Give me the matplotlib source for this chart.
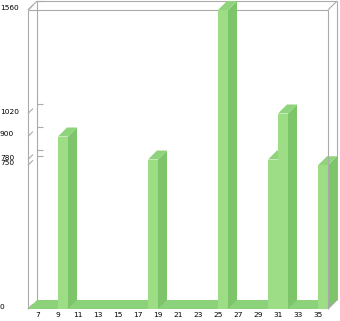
import matplotlib
matplotlib.use("Agg")
import matplotlib.pyplot as plt
from matplotlib.patches import Polygon, Rectangle
from matplotlib.transforms import blended_transform_factory, ScaledTranslation

# chart data
bar_x = [10, 19, 26, 31, 32, 36]
bar_values = [900, 780, 1560, 780, 1020, 750]
y_ticks = [0, 750, 780, 900, 1020, 1560]
x_ticks = list(range(7, 36, 2))

front_col = "#9cdd86"
side_col = "#7ec46b"
top_col = "#8fd47c"
floor_col = "#8cd27a"
line_col = "#aaaaaa"

W, H, DPI = 340, 321, 100
fig = plt.figure(figsize=(W / DPI, H / DPI), dpi=DPI)
ax = fig.add_axes([28 / W, 12 / H, 300 / W, 299 / H])
ax.set_xlim(6, 36)
ax.set_ylim(0, 1560)
for s in ax.spines.values():
    s.set_visible(False)
ax.set_yticks([])

# depth offset (9px right, 9px up) in data units
x0, x1 = ax.get_xlim()
y0, y1 = ax.get_ylim()
p = ax.transData.transform((x0, y0))
q = ax.transData.inverted().transform(p + [9, 9])
ddx, ddy = q[0] - x0, q[1] - y0

lw = 0.8
fs = 5.3


def line(xs, ys, z=0.5):
    ax.plot(xs, ys, color=line_col, lw=lw, zorder=z, clip_on=False,
            solid_capstyle="butt")


# back wall and front frame
line([x0 + ddx, x0 + ddx], [y0 + ddy, y1 + ddy])
line([x0 + ddx, x1 + ddx], [y1 + ddy, y1 + ddy])
line([x0, x0], [y0, y1])
line([x0, x1], [y1, y1])
line([x0, x0 + ddx], [y1, y1 + ddy])
line([x1, x1 + ddx], [y1, y1 + ddy], z=6)
line([x1, x1], [y0, y1], z=6)
line([x1 + ddx, x1 + ddx], [y0 + ddy, y1 + ddy], z=6)
line([x1, x1 + ddx], [y0, y0 + ddy], z=6)

# y ticks: diagonal on front axis, short horizontal on back wall
lab_tr = blended_transform_factory(fig.transFigure, ax.transData) + \
    ScaledTranslation(0, 2 / DPI, fig.dpi_scale_trans)
for v in y_ticks:
    line([x0, x0 + ddx * 0.55], [v, v + ddy * 0.55])
    line([x0 + ddx, x0 + ddx + 0.6], [v + ddy, v + ddy])
    ax.text(0, v, str(v), transform=lab_tr, ha="left", va="center",
            fontsize=fs, color="black")

# floor
ax.add_patch(Polygon([(x0, y0), (x1, y0), (x1 + ddx, y0 + ddy),
                      (x0 + ddx, y0 + ddy)], closed=True, facecolor=floor_col,
                     edgecolor="none", zorder=1, clip_on=False))

# bars
for i, (bx, v) in enumerate(zip(bar_x, bar_values)):
    z = 2 + i * 0.1
    ax.add_patch(Polygon([(bx, 0), (bx, v), (bx + ddx, v + ddy), (bx + ddx, ddy)],
                         closed=True, facecolor=side_col, edgecolor="none",
                         zorder=z, clip_on=False))
    ax.add_patch(Polygon([(bx - 1, v), (bx, v), (bx + ddx, v + ddy),
                          (bx - 1 + ddx, v + ddy)], closed=True,
                         facecolor=top_col, edgecolor="none", zorder=z,
                         clip_on=False))
    ax.add_patch(Rectangle((bx - 1, 0), 1, v, facecolor=front_col,
                           edgecolor="none", zorder=z + 0.01, clip_on=False))

ax.set_xticks(x_ticks)
ax.set_xticklabels([str(t) for t in x_ticks])
ax.tick_params(axis="x", length=0, pad=2.2, labelsize=fs)

fig.savefig("out.png", dpi=DPI)
